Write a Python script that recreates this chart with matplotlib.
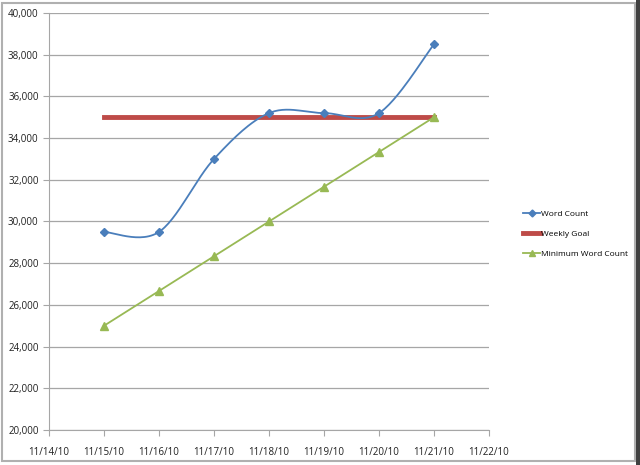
import numpy as np
import matplotlib
matplotlib.use('Agg')
import matplotlib.pyplot as plt
import matplotlib.dates as mdates
from matplotlib.patches import Rectangle
import datetime as dt

# data
dates = ['2010-11-15', '2010-11-16', '2010-11-17', '2010-11-18',
         '2010-11-19', '2010-11-20', '2010-11-21']
word_count = [29500, 29500, 33000, 35200, 35200, 35200, 38500]
weekly_goal = [35000, 35000, 35000, 35000, 35000, 35000, 35000]
min_word_count = [25000, 26667, 28333, 30000, 31667, 33333, 35000]

x = mdates.date2num([dt.datetime.strptime(d, '%Y-%m-%d') for d in dates])


def smooth(xs, ys, n=30):
    # Excel style smoothed line (cardinal bezier between points)
    xs = np.asarray(xs, float)
    ys = np.asarray(ys, float)
    px = np.concatenate([[xs[0]], xs, [xs[-1]]])
    py = np.concatenate([[ys[0]], ys, [ys[-1]]])
    outx, outy = [], []
    t = np.linspace(0, 1, n)
    for i in range(1, len(px) - 2):
        p0 = np.array([px[i], py[i]])
        p3 = np.array([px[i + 1], py[i + 1]])
        p1 = p0 + (np.array([px[i + 1], py[i + 1]]) - np.array([px[i - 1], py[i - 1]])) / 6
        p2 = p3 - (np.array([px[i + 2], py[i + 2]]) - np.array([px[i], py[i]])) / 6
        b = ((1 - t) ** 3)[:, None] * p0 + (3 * (1 - t) ** 2 * t)[:, None] * p1 \
            + (3 * (1 - t) * t ** 2)[:, None] * p2 + (t ** 3)[:, None] * p3
        outx.extend(b[:, 0])
        outy.extend(b[:, 1])
    return outx, outy


plt.rcParams['font.family'] = ['Open Sans', 'DejaVu Sans']

fig = plt.figure(figsize=(6.4, 4.65), dpi=100)
ax = fig.add_axes([49 / 640, 1 - 430 / 465, 440 / 640, 417 / 465])

blue = '#4a7ebb'
red = '#be4b48'
green = '#98b954'

sx, sy = smooth(x, word_count)
ax.plot(sx, sy, color=blue, lw=1.3, zorder=3)
ax.plot(x, word_count, ls='none', marker='D', ms=4, color=blue, zorder=4)
ax.plot(x, weekly_goal, color=red, lw=3.5, zorder=2)
ax.plot(x, min_word_count, color=green, lw=1.3, marker='^', ms=6, zorder=3)

# legend proxies
ax.plot([], [], color=blue, lw=1.3, marker='D', ms=3.5, label='Word Count')
ax.plot([], [], color=red, lw=3.5, label='Weekly Goal')
ax.plot([], [], color=green, lw=1.3, marker='^', ms=5, label='Minimum Word Count')
handles, labels = ax.get_legend_handles_labels()
fig.legend(handles, labels, loc='center left', bbox_to_anchor=(520 / 640, 1 - 234 / 465),
           frameon=False, fontsize=6, handlelength=2.0, handletextpad=0.1,
           labelspacing=1.45, borderaxespad=0)

ax.set_xlim(mdates.date2num(dt.datetime(2010, 11, 14)), mdates.date2num(dt.datetime(2010, 11, 22)))
ax.set_ylim(20000, 40000)
ax.xaxis.set_major_locator(mdates.DayLocator())
ax.xaxis.set_major_formatter(mdates.DateFormatter('%m/%d/%y'))
ax.set_yticks(np.arange(20000, 40001, 2000))
ax.yaxis.set_major_formatter(matplotlib.ticker.StrMethodFormatter('{x:,.0f}'))
ax.grid(axis='y', color='#a6a6a6', lw=0.9)
ax.set_axisbelow(True)
for s in ['top', 'right']:
    ax.spines[s].set_visible(False)
for s in ['left', 'bottom']:
    ax.spines[s].set_color('#a6a6a6')
ax.tick_params(colors='#a6a6a6', labelcolor='#202020', labelsize=7, length=4, direction='out')
ax.tick_params(axis='x', pad=8)

# screenshot frame
fig.patches.append(Rectangle((2 / 640, 4 / 465), 633 / 640, 458 / 465, transform=fig.transFigure,
                             fill=False, ec='#b0b0b0', lw=1.5))
fig.patches.append(Rectangle((636 / 640, 0), 4 / 640, 1, transform=fig.transFigure,
                             fc='#404040', ec='none'))

fig.savefig('out.png', dpi=100)
